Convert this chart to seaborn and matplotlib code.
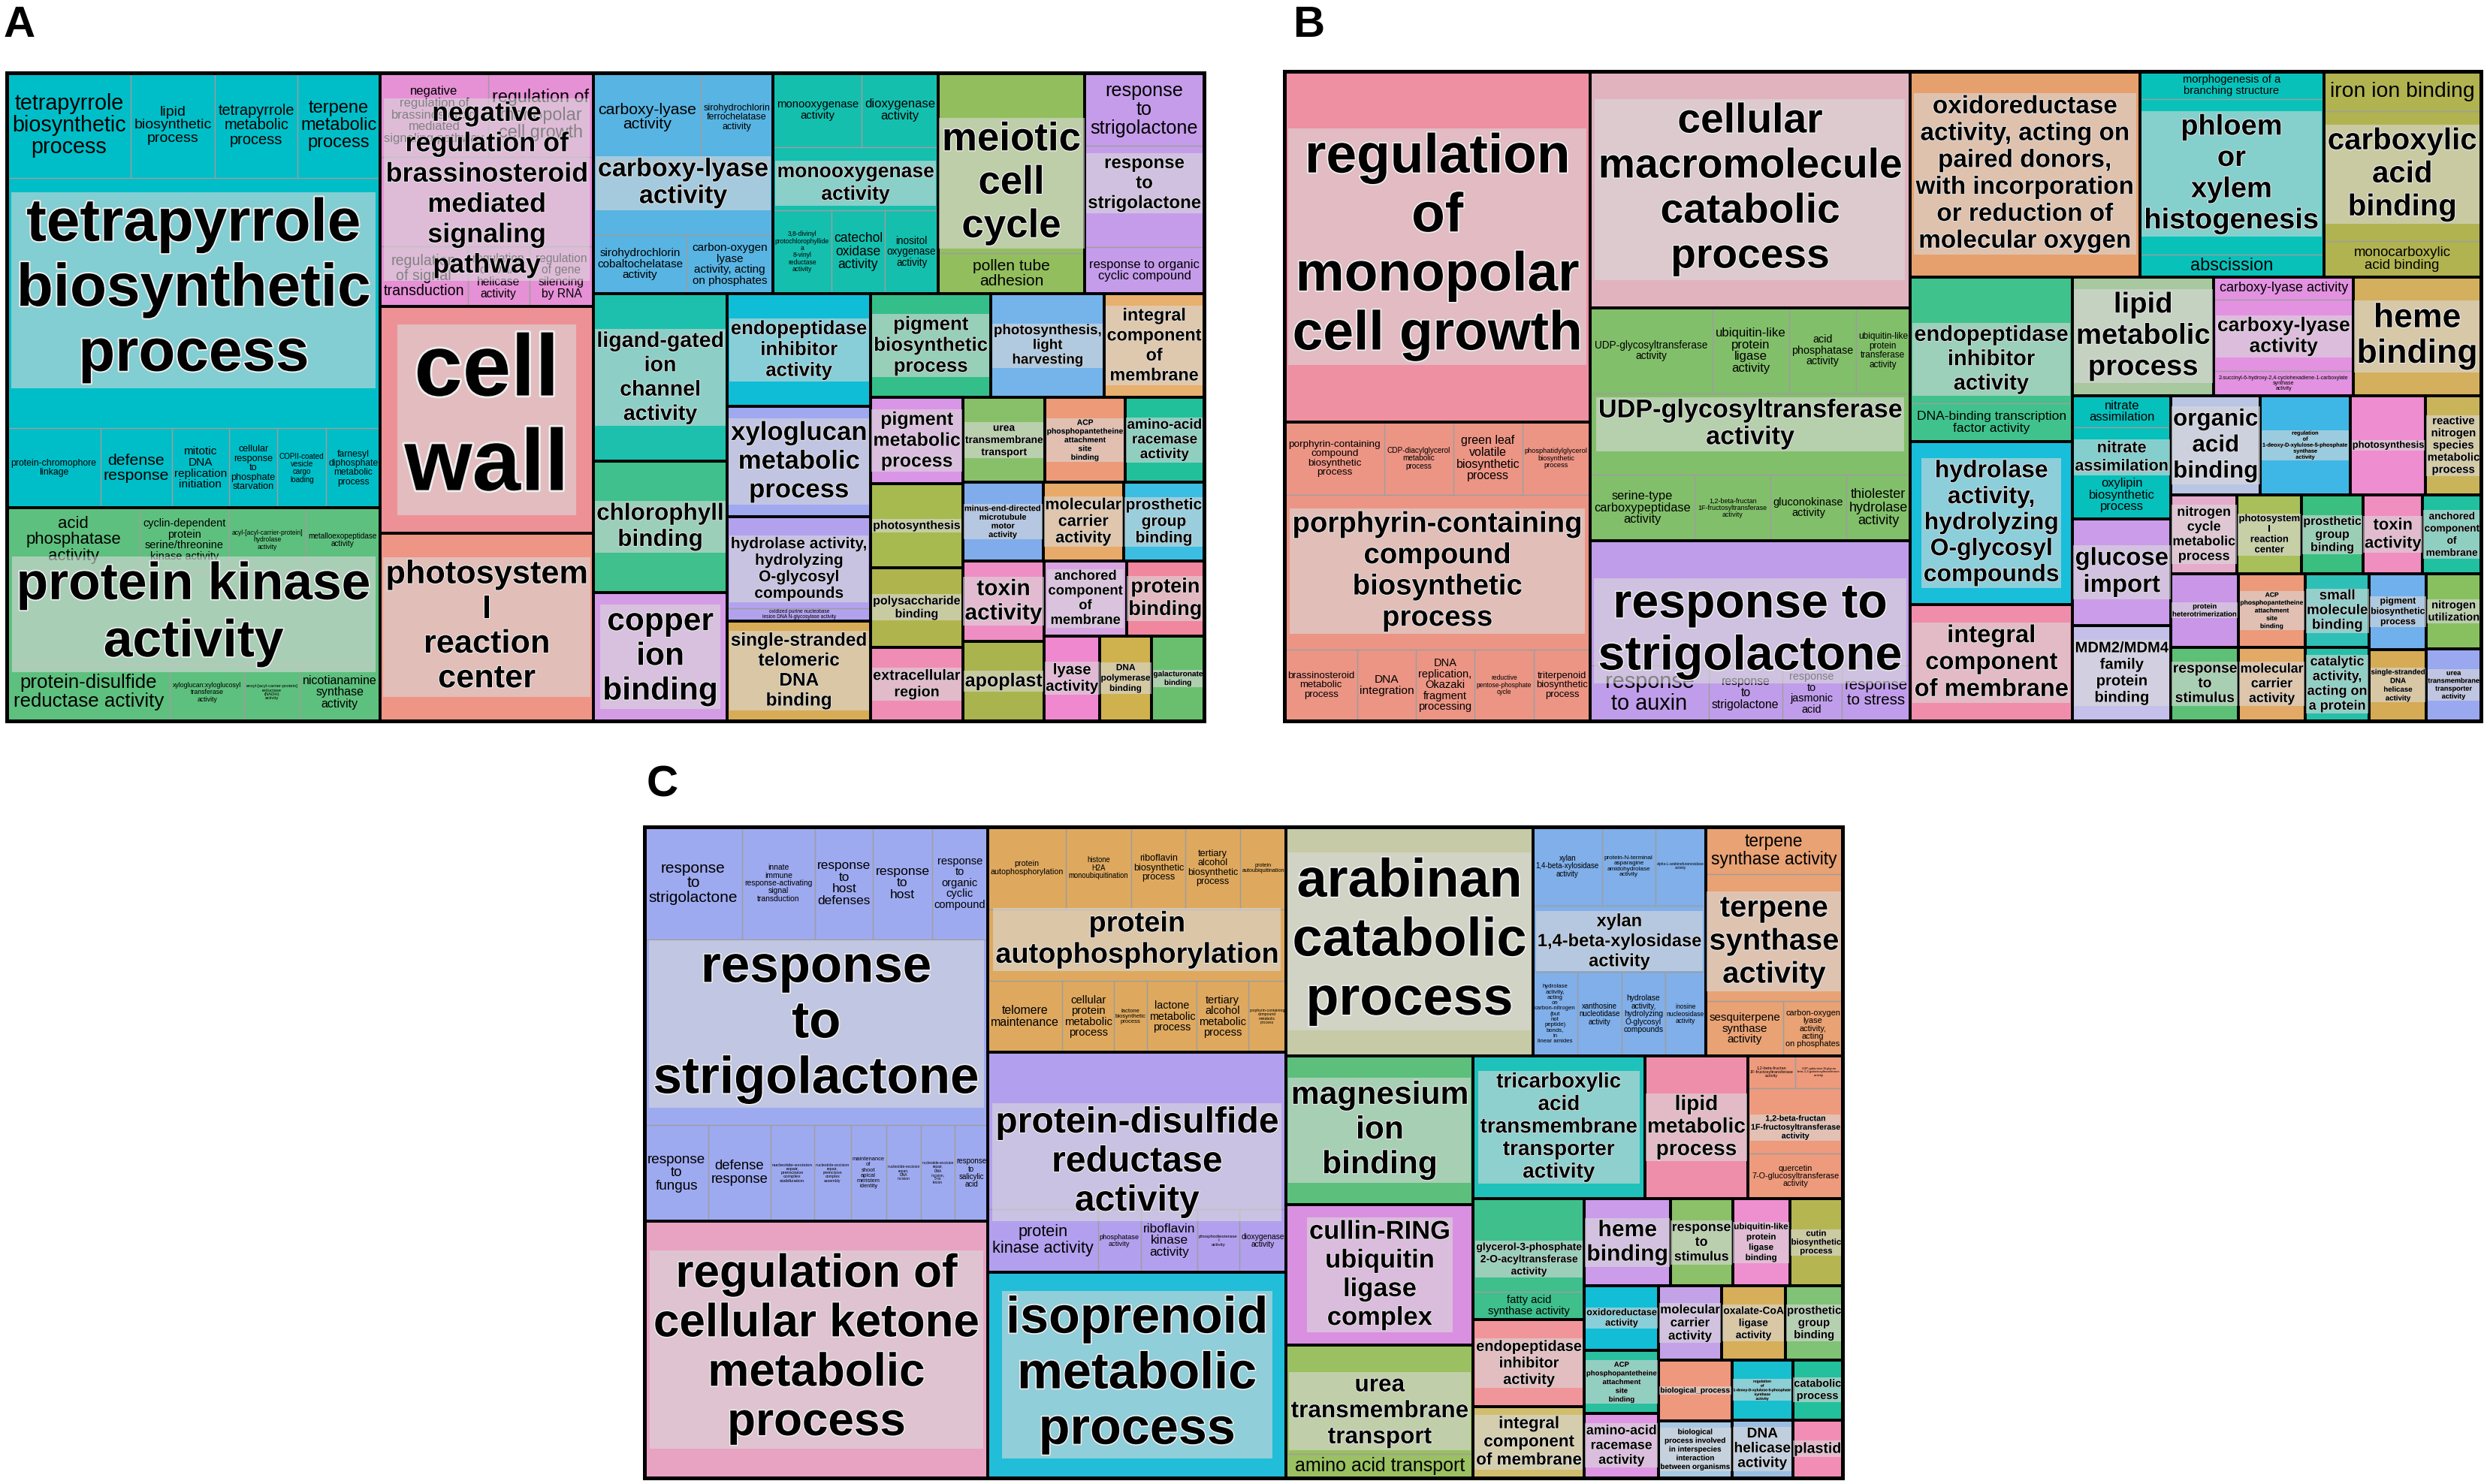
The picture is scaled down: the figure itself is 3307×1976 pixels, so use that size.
import matplotlib
matplotlib.use("Agg")
import math
import matplotlib.pyplot as plt
import matplotlib.patheffects as pe
from matplotlib.patches import Rectangle
from matplotlib.font_manager import FontProperties, fontManager
from matplotlib.textpath import TextToPath
import seaborn as sns

sns.set_theme(style="white")
plt.rcParams['font.family'] = ['Liberation Sans', 'DejaVu Sans']
plt.rcParams['text.color'] = 'black'

installed = {f.name for f in fontManager.ttflist}
NARROW = 'Liberation Sans Narrow' if 'Liberation Sans Narrow' in installed else 'Liberation Sans'

# ---------------- Panel A ----------------
A_keys = ["tetra", "pk", "negbr", "cw", "ps1", "carb", "mono", "meio", "strA", "lig", "chl", "cop",
          "endoA", "xylo", "hydA", "ssA", "pigb", "plh", "intA", "pigm", "phsA", "poly", "extra",
          "ureaA", "acpA", "aminoA", "minus", "molA", "prosA", "toxA", "apo", "anchA", "protb",
          "lyase", "dnapol", "galac"]
A_labels = ["tetrapyrrole biosynthetic process", "protein kinase activity",
            "negative regulation of brassinosteroid mediated signaling pathway", "cell wall",
            "photosystem I reaction center", "carboxy-lyase activity", "monooxygenase activity",
            "meiotic cell cycle", "response to strigolactone", "ligand-gated ion channel activity",
            "chlorophyll binding", "copper ion binding", "endopeptidase inhibitor activity",
            "xyloglucan metabolic process", "hydrolase activity, hydrolyzing O-glycosyl compounds",
            "single-stranded telomeric DNA binding", "pigment biosynthetic process",
            "photosynthesis, light harvesting", "integral component of membrane",
            "pigment metabolic process", "photosynthesis", "polysaccharide binding",
            "extracellular region", "urea transmembrane transport",
            "ACP phosphopantetheine attachment site binding", "amino-acid racemase activity",
            "minus-end-directed microtubule motor activity", "molecular carrier activity",
            "prosthetic group binding", "toxin activity", "apoplast",
            "anchored component of membrane", "protein binding", "lyase activity",
            "DNA polymerase binding", "galacturonate binding"]
A_sizes = [64250, 31420, 19700, 19160, 15800, 15700, 14460, 12790, 10430, 8900, 6970, 6800,
           6390, 6300, 5900, 5670, 4940, 4680, 4100, 3130, 3070, 2900, 2670,
           2760, 2700, 2650, 2500, 2500, 2500, 2600, 2550, 2440, 2300, 1855, 1750, 1750]
A_colors = ["#00BEC8", "#5EC07E", "#E690D6", "#EE9196", "#EE9586", "#58B4E2", "#14BFAE", "#92BE5E",
            "#C59CEA", "#1CC0AC", "#3FC08C", "#D59CE6", "#10BDD6", "#A0A8F0", "#B2A2EE", "#D8AC56",
            "#34BF8A", "#74B4EA", "#E8B06E", "#DA96E6", "#A6BA50", "#AFB54C", "#EF8DB5",
            "#88C06A", "#EC9A78", "#22C09A", "#80ACEC", "#E8AA68", "#3CBEE2", "#EE8EC4", "#A9B44E",
            "#D9A3E2", "#F0879E", "#EF88CF", "#CFB24E", "#6ABF6E"]
A_terms = {
    "tetra": [("tetrapyrrole biosynthetic process", 5150), ("lipid biosynthetic process", 3500),
              ("tetrapyrrole metabolic process", 3430), ("terpene metabolic process", 3430),
              ("protein-chromophore linkage", 2940), ("defense response", 2250),
              ("mitotic DNA replication initiation", 1810),
              ("cellular response to phosphate starvation", 1520),
              ("COPII-coated vesicle cargo loading", 1540),
              ("farnesyl diphosphate metabolic process", 1700)],
    "pk": [("acid phosphatase activity", 3350),
           ("cyclin-dependent protein serine/threonine kinase activity", 2270),
           ("acyl-[acyl-carrier-protein] hydrolase activity", 1940),
           ("metalloexopeptidase activity", 1890), ("protein-disulfide reductase activity", 3660),
           ("xyloglucan:xyloglucosyl transferase activity", 1670),
           ("enoyl-[acyl-carrier-protein] reductase (NADH) activity", 1240),
           ("nicotianamine synthase activity", 1810)],
    "negbr": [("negative regulation of brassinosteroid mediated signaling pathway", 3600),
              ("regulation of monopolar cell growth", 3500),
              ("regulation of signal transduction", 2090),
              ("regulation of DNA helicase activity", 1480),
              ("regulation of gene silencing by RNA", 1520)],
    "carb": [("carboxy-lyase activity", 3770), ("sirohydrochlorin ferrochelatase activity", 2540),
             ("sirohydrochlorin cobaltochelatase activity", 2180),
             ("carbon-oxygen lyase activity, acting on phosphates", 2000)],
    "mono": [("monooxygenase activity", 2630), ("dioxygenase activity", 2260),
             ("3,8-divinyl protochlorophyllide a 8-vinyl reductase activity", 1940),
             ("catechol oxidase activity", 1770), ("inositol oxygenase activity", 1770)],
    "meio": [("pollen tube adhesion", 2330)],
    "strA": [("response to strigolactone", 3450), ("response to organic cyclic compound", 2180)],
    "hydA": [("oxidized purine nucleobase lesion DNA N-glycosylase activity", 720)],
}
# how many of each group's terms sit in the top strip (the rest go to the bottom strip)
A_top = {"tetra": 4, "pk": 4, "negbr": 2, "carb": 2, "mono": 2, "meio": 0, "strA": 1, "hydA": 0}
A_layout = [
    ["tetra", "pk"],
    ["negbr", "cw", "ps1"],
    [
        ["carb", "mono", "meio", "strA"],
        [
            ["lig", "chl", "cop"],
            ["endoA", "xylo", "hydA", "ssA"],
            [
                ["pigb", "plh", "intA"],
                [
                    ["pigm", "phsA", "poly", "extra"],
                    [
                        ["ureaA", "acpA", "aminoA"],
                        ["minus", "molA", "prosA"],
                        [["toxA", "apo"], [["anchA", "protb"], ["lyase", "dnapol", "galac"]]],
                    ],
                ],
            ],
        ],
    ],
]

# ---------------- Panel B ----------------
B_keys = ["regmono", "porph", "cmcp", "udp", "strB", "oxido", "phloem", "carbox", "endoB", "hydB",
          "intB", "lipB", "clyB", "hemeB", "nitra", "gluc", "mdm", "orgac", "dxsB", "phsB", "rns",
          "ncyc", "ps1B", "prosB", "toxB", "anchB", "hetero", "rstimB", "acpB", "molB", "smol",
          "cat", "pigbB", "ssdh", "nutil", "ureaB"]
B_labels = ["regulation of monopolar cell growth",
            "porphyrin-containing compound biosynthetic process",
            "cellular macromolecule catabolic process", "UDP-glycosyltransferase activity",
            "response to strigolactone",
            "oxidoreductase activity, acting on paired donors, with incorporation or reduction of molecular oxygen",
            "phloem or xylem histogenesis", "carboxylic acid binding",
            "endopeptidase inhibitor activity",
            "hydrolase activity, hydrolyzing O-glycosyl compounds",
            "integral component of membrane", "lipid metabolic process", "carboxy-lyase activity",
            "heme binding", "nitrate assimilation", "glucose import",
            "MDM2/MDM4 family protein binding", "organic acid binding",
            "regulation of 1-deoxy-D-xylulose-5-phosphate synthase activity", "photosynthesis",
            "reactive nitrogen species metabolic process", "nitrogen cycle metabolic process",
            "photosystem I reaction center", "prosthetic group binding", "toxin activity",
            "anchored component of membrane", "protein heterotrimerization",
            "response to stimulus", "ACP phosphopantetheine attachment site binding",
            "molecular carrier activity", "small molecule binding",
            "catalytic activity, acting on a protein", "pigment biosynthetic process",
            "single-stranded DNA helicase activity", "nitrogen utilization",
            "urea transmembrane transporter activity"]
B_sizes = [42430, 36100, 30000, 29550, 22800, 18690, 14980, 12800, 10600, 10500,
           7450, 6660, 6590, 6000, 4800, 4150, 3720, 3530, 3530, 2980, 2170,
           2060, 2010, 1910, 1860, 1810, 1970, 1970, 1930, 1930, 1880,
           1860, 1710, 1610, 1620, 1540]
B_colors = ["#EE8FA2", "#EC9585", "#E0B3BF", "#82BF6A", "#C09DEA", "#E6A06E", "#08C2BA", "#B1B350",
            "#40C28C", "#18BEDA", "#F08DAB", "#A8C8A0", "#E292E0", "#D3AF5E", "#06C0BC", "#CA9CE9",
            "#C4C0EA", "#BAC5E4", "#3FB7E6", "#EE8DD0", "#C9B45A", "#E4ABCB", "#A9BF5A", "#3BBF80",
            "#F08EC0", "#20C0A0", "#C996E8", "#5EC076", "#EC9A7A", "#E2AA66", "#2EBFB6", "#26BFA8",
            "#70B0EC", "#D5AB55", "#88C060", "#9AA8F0"]
B_terms = {
    "porph": [("porphyrin-containing compound biosynthetic process", 2860),
              ("CDP-diacylglycerol metabolic process", 1980),
              ("green leaf volatile biosynthetic process", 1980),
              ("phosphatidylglycerol biosynthetic process", 1940),
              ("brassinosteroid metabolic process", 2040), ("DNA integration", 1660),
              ("DNA replication, Okazaki fragment processing", 1630),
              ("reductive pentose-phosphate cycle", 1680),
              ("triterpenoid biosynthetic process", 1580)],
    "udp": [("UDP-glycosyltransferase activity", 4160),
            ("ubiquitin-like protein ligase activity", 2590), ("acid phosphatase activity", 2270),
            ("ubiquitin-like protein transferase activity", 1840),
            ("serine-type carboxypeptidase activity", 2740),
            ("1,2-beta-fructan 1F-fructosyltransferase activity", 1980),
            ("gluconokinase activity", 1980), ("thiolester hydrolase activity", 1670)],
    "strB": [("response to auxin", 2600), ("response to strigolactone", 1600),
             ("response to jasmonic acid", 1300), ("response to stress", 1500)],
    "phloem": [("morphogenesis of a branching structure", 2050), ("abscission", 1620)],
    "carbox": [("iron ion binding", 2500), ("monocarboxylic acid binding", 2210)],
    "endoB": [("DNA-binding transcription factor activity", 2450)],
    "clyB": [("carboxy-lyase activity", 1260),
             ("2-succinyl-6-hydroxy-2,4-cyclohexadiene-1-carboxylate synthase activity", 1390)],
    "nitra": [("nitrate assimilation", 1240), ("oxylipin biosynthetic process", 1860)],
}
B_top = {"porph": 4, "udp": 4, "strB": 0, "phloem": 1, "carbox": 1, "endoB": 0, "clyB": 1,
         "nitra": 1}
B_layout = [
    ["regmono", "porph"],
    ["cmcp", "udp", "strB"],
    [
        ["oxido", "phloem", "carbox"],
        [
            ["endoB", "hydB", "intB"],
            [
                ["lipB", "clyB", "hemeB"],
                [
                    ["nitra", "gluc", "mdm"],
                    [
                        ["orgac", "dxsB", "phsB", "rns"],
                        ["ncyc", "ps1B", "prosB", "toxB", "anchB"],
                        [["hetero", "rstimB"], ["acpB", "molB"], ["smol", "cat"],
                         ["pigbB", "ssdh"], ["nutil", "ureaB"]],
                    ],
                ],
            ],
        ],
    ],
]

# ---------------- Panel C ----------------
C_keys = ["strC", "ket", "auto", "disul", "iso", "arab", "xylan", "terp", "mag", "cul", "ureaC",
          "tca", "lipC", "fruc", "g3p", "endoC", "intC", "hemeC", "rstC", "ubqC", "cutin", "oxC",
          "acpC", "amC", "molC", "oxal", "prosC", "bp", "inter", "dxsC", "dnah", "catC", "plast"]
C_labels = ["response to strigolactone", "regulation of cellular ketone metabolic process",
            "protein autophosphorylation", "protein-disulfide reductase activity",
            "isoprenoid metabolic process", "arabinan catabolic process",
            "xylan 1,4-beta-xylosidase activity", "terpene synthase activity",
            "magnesium ion binding", "cullin-RING ubiquitin ligase complex",
            "urea transmembrane transport",
            "tricarboxylic acid transmembrane transporter activity", "lipid metabolic process",
            "1,2-beta-fructan 1F-fructosyltransferase activity",
            "glycerol-3-phosphate 2-O-acyltransferase activity",
            "endopeptidase inhibitor activity", "integral component of membrane", "heme binding",
            "response to stimulus", "ubiquitin-like protein ligase binding",
            "cutin biosynthetic process", "oxidoreductase activity",
            "ACP phosphopantetheine attachment site binding", "amino-acid racemase activity",
            "molecular carrier activity", "oxalate-CoA ligase activity",
            "prosthetic group binding", "biological_process",
            "biological process involved in interspecies interaction between organisms",
            "regulation of 1-deoxy-D-xylulose-5-phosphate synthase activity",
            "DNA helicase activity", "catabolic process", "plastid"]
C_sizes = [53535, 34830, 26650, 25900, 24300, 22370, 15675, 12400, 11000, 10380, 9830,
           9680, 5850, 5320, 5330, 3830, 3120, 2970, 2150, 1980, 1820, 1880,
           1860, 1880, 1840, 1860, 1670, 1770, 1650, 1440, 1380, 1180, 1140]
C_colors = ["#9EAAF0", "#E8A2C2", "#DEA95F", "#B2A0EE", "#22BDD8", "#C6CAA6", "#80AFEA", "#E8A274",
            "#5CBF7C", "#DA90E0", "#9AC062", "#1EC2BA", "#EE8EAA", "#EE9A7C", "#3EBF8C", "#F0969A",
            "#D0BE6E", "#CA9CEA", "#8CC16A", "#EE90D0", "#B5B652", "#12BDD6", "#2ABF9E", "#DE96E4",
            "#C4A2E8", "#D7AE5A", "#80C276", "#EE987E", "#A8C8E4", "#18BFCE", "#9ABEE2", "#22C09C",
            "#F28EB6"]
C_terms = {
    "strC": [("response to strigolactone", 4330),
             ("innate immune response-activating signal transduction", 3270),
             ("response to host defenses", 2590), ("response to host", 2620),
             ("response to organic cyclic compound", 2500), ("response to fungus", 2420),
             ("defense response", 2370),
             ("nucleotide-excision repair, preincision complex stabilization", 1680),
             ("nucleotide-excision repair, preincision complex assembly", 1380),
             ("maintenance of shoot apical meristem identity", 1350),
             ("nucleotide-excision repair, DNA incision", 1330),
             ("nucleotide-excision repair, DNA incision, 5'-to lesion", 1290),
             ("response to salicylic acid", 1260)],
    "auto": [("protein autophosphorylation", 2550), ("histone H2A monoubiquitination", 2130),
             ("riboflavin biosynthetic process", 1770),
             ("tertiary alcohol biosynthetic process", 1770),
             ("protein autoubiquitination", 1510), ("telomere maintenance", 2110),
             ("cellular protein metabolic process", 1480),
             ("lactone biosynthetic process", 940), ("lactone metabolic process", 1410),
             ("tertiary alcohol metabolic process", 1460),
             ("porphyrin-containing compound metabolic process", 1080)],
    "disul": [("protein kinase activity", 2720), ("phosphatase activity", 1070),
              ("riboflavin kinase activity", 1390), ("phosphodiesterase I activity", 1040),
              ("dioxygenase activity", 1160)],
    "xylan": [("xylan 1,4-beta-xylosidase activity", 2160),
              ("protein-N-terminal asparagine amidohydrolase activity", 1670),
              ("alpha-L-arabinofuranosidase activity", 1570),
              ("hydrolase activity, acting on carbon-nitrogen (but not peptide) bonds, in linear amides", 1470),
              ("xanthosine nucleotidase activity", 1480),
              ("hydrolase activity, hydrolyzing O-glycosyl compounds", 1430),
              ("inosine nucleosidase activity", 1350)],
    "terp": [("terpene synthase activity", 2580), ("sesquiterpene synthase activity", 1680),
             ("carbon-oxygen lyase activity, acting on phosphates", 1280)],
    "ureaC": [("amino acid transport", 1740)],
    "fruc": [("1,2-beta-fructan 1F-fructosyltransferase activity", 600),
             ("UDP-galactose:N-glycan beta-1,3-galactosyltransferase activity", 600),
             ("quercetin 7-O-glucosyltransferase activity", 1690)],
    "g3p": [("fatty acid synthase activity", 1240)],
}
C_top = {"strC": 5, "auto": 5, "disul": 0, "xylan": 3, "terp": 1, "ureaC": 0, "fruc": 2, "g3p": 0}
C_layout = [
    ["strC", "ket"],
    ["auto", "disul", "iso"],
    [
        ["arab", "xylan", "terp"],
        [
            ["mag", "cul", "ureaC"],
            [
                ["tca", "lipC", "fruc"],
                [
                    ["g3p", "endoC", "intC"],
                    [
                        ["hemeC", "rstC", "ubqC", "cutin"],
                        [
                            ["oxC", "acpC", "amC"],
                            [
                                ["molC", "oxal", "prosC"],
                                [["bp", "inter"], ["dxsC", "dnah"], ["catC", "plast"]],
                            ],
                        ],
                    ],
                ],
            ],
        ],
    ],
]

# panel boxes in units of the 1568 x 937 preview
REF_W, REF_H = 1568.0, 937.0
panels = [
    ("A", (4.5, 46, 760, 455), (12, 16), A_keys, A_labels, A_sizes, A_colors, A_terms, A_top, A_layout),
    ("B", (811, 45, 1566, 455), (826, 16), B_keys, B_labels, B_sizes, B_colors, B_terms, B_top, B_layout),
    ("C", (407, 522, 1163, 933), (418, 496), C_keys, C_labels, C_sizes, C_colors, C_terms, C_top, C_layout),
]

t2p = TextToPath()
BOLD = FontProperties(family='Liberation Sans', weight='bold', size=100)
THIN = FontProperties(family=NARROW, size=100)


def fit_label(text, w_pt, h_pt, prop, pitch):
    # choose line breaks and font size so the label fills its box
    words = text.split()
    n = len(words)
    cache = {}

    def wid(i, j):
        if (i, j) not in cache:
            s = ' '.join(words[i:j])
            cache[(i, j)] = t2p.get_text_width_height_descent(s, prop, ismath=False)[0] / 100.0
        return cache[(i, j)]

    inf = float('inf')
    prev = [0.0] + [inf] * n
    back = []
    cands = []
    for k in range(1, n + 1):
        cur = [inf] * (n + 1)
        arg = [0] * (n + 1)
        for j in range(k, n + 1):
            for i in range(k - 1, j):
                v = max(prev[i], wid(i, j))
                if v < cur[j]:
                    cur[j], arg[j] = v, i
        back.append(arg)
        block_h = pitch * (k - 1) + 1.15
        fs = min(w_pt / cur[n], h_pt / block_h)
        lines, j = [], n
        for kk in range(k, 0, -1):
            i = back[kk - 1][j]
            lines.append(' '.join(words[i:j]))
            j = i
        cands.append((fs, '\n'.join(lines[::-1]), cur[n] / block_h))
        prev = cur
    top = max(c[0] for c in cands)
    box_aspect = w_pt / h_pt
    near = [c for c in cands if c[0] >= 0.95 * top]
    fs, txt, _ = min(near, key=lambda c: abs(math.log(c[2] / box_aspect)))
    return fs, txt


def node_size(node, size_of):
    if isinstance(node, list):
        return sum(node_size(c, size_of) for c in node)
    return size_of[node]


def slice_layout(node, x, y, w, h, depth, size_of, out):
    tot = node_size(node, size_of)
    pos = x if depth % 2 == 0 else y
    for child in node:
        s = node_size(child, size_of)
        if depth % 2 == 0:
            cw = w * s / tot
            box = (pos, y, cw, h)
            pos += cw
        else:
            ch = h * s / tot
            box = (x, pos, w, ch)
            pos += ch
        if isinstance(child, list):
            slice_layout(child, *box, depth + 1, size_of, out)
        else:
            out[child] = box


def term_boxes(x, y, w, h, total, sub, n_top):
    # terms in a strip along the top and a strip along the bottom, the rest of the group between
    top, bottom = sub[:n_top], sub[n_top:]
    ta = sum(a for _, a in top)
    ba = sum(a for _, a in bottom)
    core = max(total - ta - ba, 0.15 * total)
    scale = w * h / (core + ta + ba)
    th = ta * scale / w
    bh = ba * scale / w
    out = []
    xx = x
    for name, a in top:
        ww = a * scale / th
        out.append((name, xx, y, ww, th))
        xx += ww
    xx = x
    for name, a in bottom:
        ww = a * scale / bh
        out.append((name, xx, y + h - bh, ww, bh))
        xx += ww
    out.append((None, x, y + th, w, h - th - bh))
    return out


fig = plt.figure(figsize=(3307 / 200, 1976 / 200), dpi=200, facecolor='white')
ppu = fig.get_figwidth() * 72 / REF_W  # points per preview unit

for letter, (x0, y0, x1, y1), (lx, ly), keys, labels, sizes, colors, terms, tops, layout in panels:
    W, H = x1 - x0, y1 - y0
    ax = fig.add_axes([x0 / REF_W, 1 - y1 / REF_H, W / REF_W, H / REF_H])
    ax.set_xlim(0, W)
    ax.set_ylim(H, 0)
    ax.axis('off')
    size_of = dict(zip(keys, sizes))
    rects = {}
    slice_layout(layout, 0, 0, W, H, 0, size_of, rects)

    for key, lab, col in zip(keys, labels, colors):
        x, y, w, h = rects[key]
        ax.add_patch(Rectangle((x, y), w, h, fc=col, ec='none', zorder=1))
        sub = terms.get(key, [])
        for name, bx, by, bw, bh in term_boxes(x, y, w, h, size_of[key], sub, tops.get(key, 0)):
            ax.add_patch(Rectangle((bx, by), bw, bh, fill=False, ec='#9E9E9E', lw=0.45, zorder=2))
            if name:
                fs, txt = fit_label(name, bw * ppu * 0.92, bh * ppu * 0.92, THIN, 1.19)
                if fs > 0.8:
                    ax.text(bx + bw / 2, by + bh / 2, txt, ha='center', va='center',
                            multialignment='center', fontsize=fs, family=NARROW,
                            linespacing=1.05, zorder=3)
        ax.add_patch(Rectangle((x, y), w, h, fill=False, ec='black', lw=1.3, zorder=4))
        fs, txt = fit_label(lab, w * ppu * 0.95, h * ppu * 0.95, BOLD, 1.33)
        ax.text(x + w / 2, y + h / 2, txt, ha='center', va='center', multialignment='center',
                fontsize=fs, fontweight='bold', linespacing=1.2, zorder=5,
                bbox=dict(boxstyle='square,pad=0.08', fc='#DADADA', ec='none', alpha=0.6),
                path_effects=[pe.withStroke(linewidth=min(fs * 0.05, 2.0), foreground='#EEEEEE')])

    ax.add_patch(Rectangle((0, 0), W, H, fill=False, ec='black', lw=1.8, zorder=6, clip_on=False))
    fig.text(lx / REF_W, 1 - ly / REF_H, letter, ha='center', va='center',
             fontsize=21, fontweight='bold')

fig.savefig('out.png', dpi=200, facecolor='white')
